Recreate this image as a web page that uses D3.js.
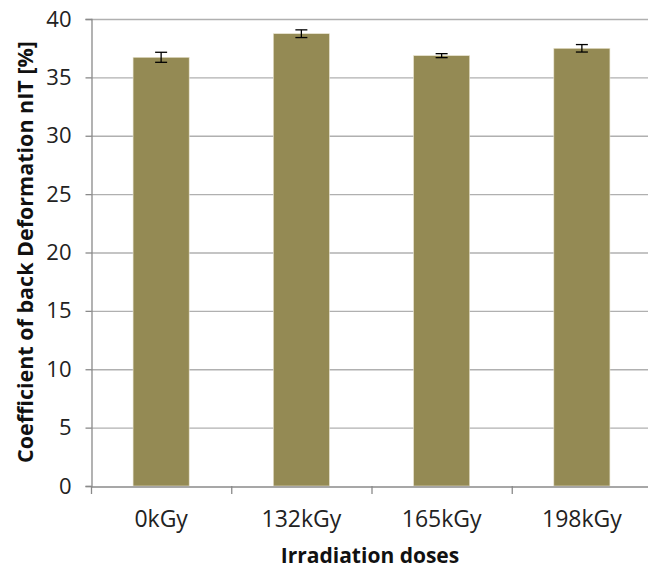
<!DOCTYPE html>
<html><head><meta charset="utf-8">
<script src="https://cdn.jsdelivr.net/npm/d3@7"></script>
<style>body{margin:0;background:#fff}svg{display:block}</style>
</head><body>
<svg id="c" width="648" height="571"></svg>
<script>
const categories = ["0kGy", "132kGy", "165kGy", "198kGy"];
const values = [36.72, 38.74, 36.86, 37.49];
const errors = [0.43, 0.33, 0.17, 0.32];
const yTicks = [0, 5, 10, 15, 20, 25, 30, 35, 40];
const xTitle = "Irradiation doses";
const yTitle = "Coefficient of back Deformation nIT [%]";

const svg = d3.select("#c");
const m = {left: 91, right: 652, top: 19, bottom: 486};
const x = d3.scaleBand().domain(categories).range([m.left, m.right]).paddingInner(0.6).paddingOuter(0.3);
const y = d3.scaleLinear().domain([0, 40]).range([m.bottom, m.top]);
const font = "'Open Sans', sans-serif";

// gridlines
svg.append("g").selectAll("line").data(yTicks.filter(d => d > 0)).join("line")
  .attr("x1", m.left).attr("x2", m.right)
  .attr("y1", d => y(d) + 0.5).attr("y2", d => y(d) + 0.5)
  .attr("stroke", "#b0b0b0").attr("stroke-width", 1.3);

// bars
svg.append("g").selectAll("rect").data(categories).join("rect")
  .attr("x", d => x(d)).attr("width", x.bandwidth())
  .attr("y", (d, i) => y(values[i])).attr("height", (d, i) => y(0) - y(values[i]))
  .attr("fill", "#948a54").attr("stroke", "#e9e4cf").attr("stroke-width", 0.6);

// error bars
const eb = svg.append("g").attr("stroke", "#000").attr("stroke-width", 1.3);
categories.forEach((c, i) => {
  const cx = x(c) + x.bandwidth() / 2;
  eb.append("line").attr("x1", cx).attr("x2", cx).attr("y1", y(values[i] + errors[i])).attr("y2", y(values[i] - errors[i]));
  eb.append("line").attr("x1", cx - 6).attr("x2", cx + 6).attr("y1", y(values[i] + errors[i])).attr("y2", y(values[i] + errors[i]));
  eb.append("line").attr("x1", cx - 6).attr("x2", cx + 6).attr("y1", y(values[i] - errors[i])).attr("y2", y(values[i] - errors[i]));
});

// y axis
const yAxis = svg.append("g").attr("transform", `translate(${m.left + 0.5},0)`)
  .call(d3.axisLeft(y).tickValues(yTicks).tickSize(6).tickPadding(14));
yAxis.select(".domain").attr("stroke", "#8a8a8a").attr("stroke-width", 1.3);
yAxis.selectAll(".tick line").attr("stroke", "#8a8a8a").attr("stroke-width", 1.3);
yAxis.selectAll("text").attr("font-family", font).attr("font-size", 22).attr("fill", "#222");

// x axis
const xAxis = svg.append("g").attr("transform", `translate(0,${m.bottom + 0.5})`)
  .call(d3.axisBottom(x).tickSize(0).tickPadding(24));
xAxis.select(".domain").attr("stroke", "#8a8a8a").attr("stroke-width", 1.3);
xAxis.selectAll("text").attr("font-family", font).attr("font-size", 23).attr("fill", "#222");
const step = x.step();
const bounds = d3.range(categories.length + 1).map(i => m.left + i * step);
svg.append("g").selectAll("line").data(bounds).join("line")
  .attr("x1", d => d + 0.5).attr("x2", d => d + 0.5)
  .attr("y1", m.bottom).attr("y2", m.bottom + 8)
  .attr("stroke", "#8a8a8a").attr("stroke-width", 1.3);

// titles
svg.append("text").attr("x", 370).attr("y", 563).attr("text-anchor", "middle")
  .attr("font-family", font).attr("font-weight", "bold").attr("font-size", 21).attr("fill", "#111")
  .text(xTitle);
svg.append("text").attr("transform", "translate(33,252) rotate(-90)").attr("text-anchor", "middle")
  .attr("font-family", font).attr("font-weight", "bold").attr("font-size", 21.5).attr("fill", "#111")
  .text(yTitle);
</script>
</body></html>
